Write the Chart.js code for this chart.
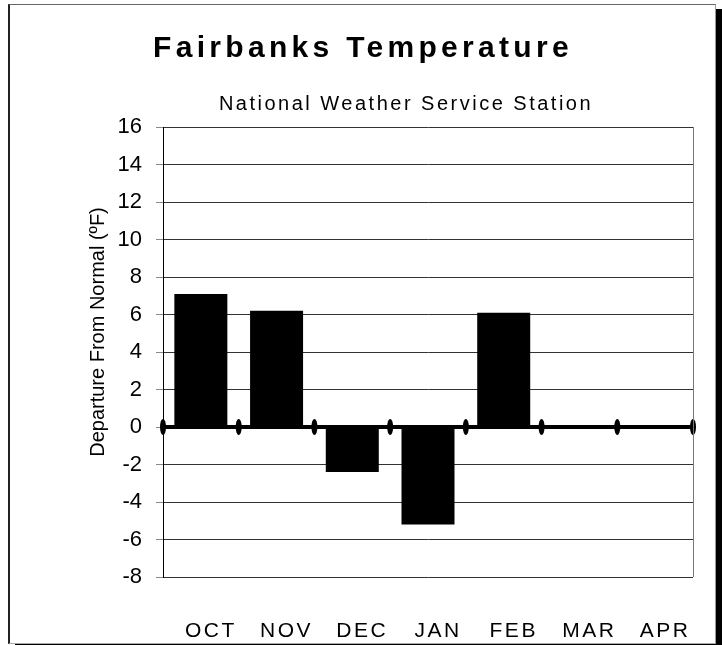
<!DOCTYPE html>
<html>
<head>
<meta charset="utf-8">
<script src="https://cdn.jsdelivr.net/npm/chart.js@4.4.1/dist/chart.umd.min.js"></script>
<style>
  html, body { margin: 0; padding: 0; background: #fff; }
  #wrap { position: relative; width: 722px; height: 645px; overflow: hidden; }
  /* outer frame with a solid drop shadow on the right */
  #frame {
    position: absolute; left: 8px; top: 4px; width: 705px; height: 638px;
    border-left: 2px solid #222; border-top: 1px solid #666;
    border-right: 1px solid #999; border-bottom: 1px solid #aaa;
    box-shadow: 7px 5px 0 #000; background: #fff;
  }
  #tempChart { position: absolute; left: 0; top: 0; }
</style>
</head>
<body>
<div id="wrap">
  <div id="frame"></div>
  <canvas id="tempChart" width="722" height="645"></canvas>
</div>
<script>
// ---- data ----
const months = ["OCT", "NOV", "DEC", "JAN", "FEB", "MAR", "APR"];
const departures = [7.1, 6.2, -2.4, -5.2, 6.1, null, null];
const yMin = -8;
const yMax = 16;
const yStep = 2;

const titleText = "Fairbanks Temperature";
const subtitleText = "National Weather Service Station";
const yTitleText = "Departure From Normal (ºF)";

const FONT = "'Liberation Sans', Arial, sans-serif";

// thick zero line with little oval ticks at each month boundary
const zeroLine = {
  id: "zeroLine",
  afterDatasetsDraw(chart) {
    const { ctx, chartArea, scales } = chart;
    const y = scales.y.getPixelForValue(0);
    const n = months.length;
    const w = (chartArea.right - chartArea.left) / n;
    ctx.save();
    ctx.strokeStyle = "#000";
    ctx.lineWidth = 4;
    ctx.beginPath();
    ctx.moveTo(chartArea.left, y);
    ctx.lineTo(chartArea.right, y);
    ctx.stroke();
    ctx.fillStyle = "#000";
    for (let i = 0; i <= n; i++) {
      const x = chartArea.left + i * w;
      ctx.beginPath();
      ctx.ellipse(x, y, 3, 8, 0, 0, Math.PI * 2);
      ctx.fill();
    }
    // right edge of the plot
    ctx.strokeStyle = "#777";
    ctx.lineWidth = 1;
    ctx.beginPath();
    ctx.moveTo(Math.round(chartArea.right) + 0.5, chartArea.top);
    ctx.lineTo(Math.round(chartArea.right) + 0.5, chartArea.bottom);
    ctx.stroke();
    ctx.restore();
    // month labels (z = 1) are drawn after this point, spaced out a bit
    ctx.letterSpacing = "2.5px";
  },
  afterDraw(chart) {
    chart.ctx.letterSpacing = "0px";
  }
};

// headings and the rotated axis title, with letter spacing
const headings = {
  id: "headings",
  afterDraw(chart) {
    const ctx = chart.ctx;
    ctx.save();
    ctx.fillStyle = "#000";
    ctx.textAlign = "center";
    ctx.textBaseline = "alphabetic";

    ctx.font = "bold 30px " + FONT;
    ctx.letterSpacing = "4.3px";
    ctx.fillText(titleText, 363, 57);

    ctx.font = "20px " + FONT;
    ctx.letterSpacing = "2.5px";
    ctx.fillText(subtitleText, 406, 110);

    ctx.letterSpacing = "0px";
    ctx.font = "20px " + FONT;
    ctx.translate(104, 332);
    ctx.rotate(-Math.PI / 2);
    ctx.fillText(yTitleText, 0, 0);
    ctx.restore();
  }
};

new Chart(document.getElementById("tempChart"), {
  type: "bar",
  data: {
    labels: months,
    datasets: [{
      data: departures,
      backgroundColor: "#000",
      borderWidth: 0,
      barPercentage: 0.7,
      categoryPercentage: 1
    }]
  },
  options: {
    responsive: false,
    animation: false,
    layout: { padding: { top: 127, right: 29, left: 0, bottom: 0 } },
    plugins: {
      legend: { display: false },
      title: { display: false },
      tooltip: { enabled: false }
    },
    scales: {
      x: {
        grid: { display: false, drawTicks: false },
        border: { display: false },
        ticks: {
          z: 1,
          color: "#000",
          padding: 42,
          labelOffset: 10,
          maxRotation: 0,
          font: { family: FONT, size: 21 }
        },
        afterFit(scale) { scale.height = 68; }
      },
      y: {
        min: yMin,
        max: yMax,
        grid: { color: "#333", lineWidth: 1, tickLength: 7, tickColor: "#888" },
        border: { color: "#000", width: 1 },
        ticks: {
          stepSize: yStep,
          color: "#000",
          padding: 14,
          font: { family: FONT, size: 22 }
        },
        afterFit(scale) { scale.width = 163; }
      }
    }
  },
  plugins: [zeroLine, headings]
});
</script>
</body>
</html>
